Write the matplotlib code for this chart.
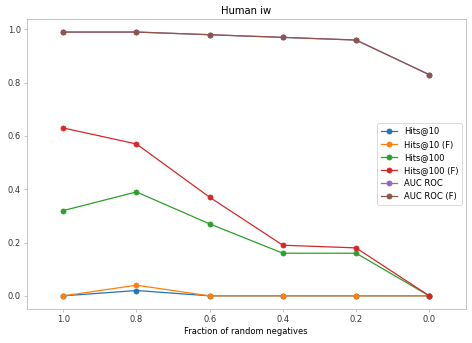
import matplotlib.pyplot as plt

fractions = [1.0, 0.8, 0.6, 0.4, 0.2, 0.0]
hits10 = [0.0, 0.02, 0.0, 0.0, 0.0, 0.0]
hits10_f = [0.0, 0.04, 0.0, 0.0, 0.0, 0.0]
hits100 = [0.32, 0.39, 0.27, 0.16, 0.16, 0.0]
hits100_f = [0.63, 0.57, 0.37, 0.19, 0.18, 0.0]
auc = [0.99, 0.99, 0.98, 0.97, 0.96, 0.83]
auc_f = [0.99, 0.99, 0.98, 0.97, 0.96, 0.83]

series = [
    ('Hits@10', hits10),
    ('Hits@10 (F)', hits10_f),
    ('Hits@100', hits100),
    ('Hits@100 (F)', hits100_f),
    ('AUC ROC', auc),
    ('AUC ROC (F)', auc_f),
]

fig, ax = plt.subplots(figsize=(472 / 60, 343 / 60), dpi=60)
for label, vals in series:
    ax.plot(fractions, vals, marker='o', label=label)

ax.set_xlim(1.1, -0.1)
ax.set_xticks([1.0, 0.8, 0.6, 0.4, 0.2, 0.0])
ax.set_xlabel('Fraction of random negatives')
ax.set_title('Human iw')
for s in ax.spines.values():
    s.set_color('#aaaaaa')
ax.tick_params(color='#aaaaaa', labelcolor='#333333')
ax.legend(loc='center right')

plt.subplots_adjust(left=0.0565, right=0.987, top=0.945, bottom=0.099)
plt.savefig('out.png')
